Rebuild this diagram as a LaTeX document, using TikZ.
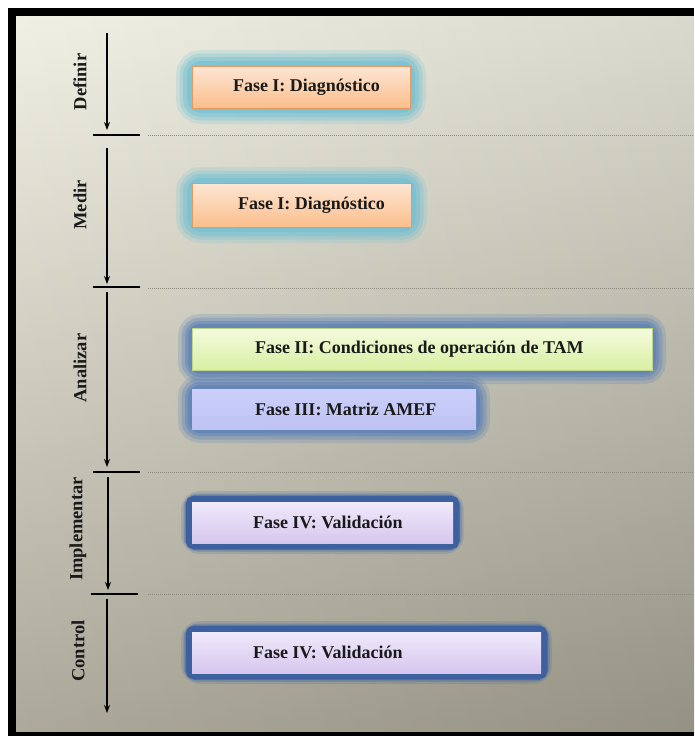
\documentclass[tikz,border=0pt]{standalone}
\usepackage{fontspec}
\setmainfont{Liberation Serif}
\usetikzlibrary{arrows.meta}
\pgfdeclarelayer{bg}
\pgfdeclarelayer{glowlayer}
\pgfsetlayers{bg,glowlayer,main}
\definecolor{txt}{HTML}{1A1A1A}
\definecolor{bgtop}{HTML}{F0EFE2}
\definecolor{bgbot}{HTML}{A4A191}
\definecolor{cyanglow}{HTML}{6CBFD3}
\definecolor{blueglow}{HTML}{5A80B6}
\definecolor{darkborder}{HTML}{3D619E}
\definecolor{orTop}{HTML}{FDE6D4}
\definecolor{orBot}{HTML}{FBBE8C}
\definecolor{orLine}{HTML}{E39A62}
\definecolor{grTop}{HTML}{F5FBDF}
\definecolor{grBot}{HTML}{D8EFA2}
\definecolor{grLine}{HTML}{BFD68A}
\definecolor{lbTop}{HTML}{CCCFFA}
\definecolor{lbBot}{HTML}{BEC3F4}
\definecolor{lvTop}{HTML}{F0EAFB}
\definecolor{lvBot}{HTML}{D6C6EE}
\definecolor{dotline}{HTML}{8C8B80}
\newcommand{\boxtext}[2]{\makebox[#1pt][l]{#2}}
\begin{document}
\begin{tikzpicture}[x=1pt,y=-1pt,
  phasebox/.style={anchor=north west, inner ysep=0pt, outer sep=0pt,
    font=\bfseries\fontsize{18}{20}\selectfont, text=txt},
  orbox/.style={phasebox, top color=orTop, bottom color=orBot, draw=orLine, line width=0.8pt},
  grbox/.style={phasebox, top color=grTop, bottom color=grBot, draw=grLine, line width=0.6pt},
  lbbox/.style={phasebox, top color=lbTop, bottom color=lbBot},
  lvbox/.style={phasebox, top color=lvTop, bottom color=lvBot},
  steplabel/.style={rotate=90, font=\bfseries\fontsize{18.5}{21}\selectfont, text=txt, inner sep=0pt},
  flow/.style={line width=1.4pt, -{Stealth[length=8pt,width=6pt]}},
  tickmark/.style={line width=2.6pt},
  sepline/.style={dotline, line width=0.9pt, dash pattern=on 1pt off 1pt}]

\useasboundingbox (0,0) rectangle (694,736);

% boxes
\node[orbox, inner xsep=41pt, minimum height=42pt] (b1) at (192,66) {\boxtext{136}{Fase I: Diagnóstico}};
\node[orbox, inner xsep=46pt, minimum height=44pt] (b2) at (192,183) {\boxtext{127}{Fase I: Diagnóstico}};
\node[grbox, inner xsep=63pt, minimum height=42pt] (b3) at (192,328) {\boxtext{334}{Fase II: Condiciones de operación de TAM}};
\node[lbbox, inner xsep=63pt, minimum height=40pt] (b4) at (192,389) {\boxtext{158}{Fase III: Matriz AMEF}};
\node[lvbox, inner xsep=61pt, minimum height=41pt] (b5) at (192,502) {\boxtext{139}{Fase IV: Validación}};
\node[lvbox, inner xsep=61pt, minimum height=41pt] (b6) at (192,632) {\boxtext{227}{Fase IV: Validación}};

% labels
\node[steplabel] (lDef) at (80,82) {Definir};
\node[steplabel] (lMed) at (80,205) {Medir};
\node[steplabel] (lAna) at (80,368) {Analizar};
\node[steplabel] (lImp) at (78,529) {Implementar};
\node[steplabel] (lCon) at (78,651) {Control};

% coordinates
\coordinate (aD1) at (107,33);  \coordinate (aD2) at (107,130);
\coordinate (aM1) at (107,148); \coordinate (aM2) at (107,284);
\coordinate (aA1) at (107,292); \coordinate (aA2) at (107,467);
\coordinate (aI1) at (108,477); \coordinate (aI2) at (108,590);
\coordinate (aC1) at (107,599); \coordinate (aC2) at (107,713);
\coordinate (t1a) at (93,135);  \coordinate (t1b) at (140,135);
\coordinate (t2a) at (93,287);  \coordinate (t2b) at (140,287);
\coordinate (t3a) at (93,472);  \coordinate (t3b) at (140,472);
\coordinate (t4a) at (91,594);  \coordinate (t4b) at (138,594);
\coordinate (s1a) at (148,135); \coordinate (s1b) at (694,135);
\coordinate (s2a) at (148,288); \coordinate (s2b) at (694,288);
\coordinate (s3a) at (148,472); \coordinate (s3b) at (694,472);
\coordinate (s4a) at (148,594); \coordinate (s4b) at (694,594);

\draw[flow] (aD1) -- (aD2);
\draw[flow] (aM1) -- (aM2);
\draw[flow] (aA1) -- (aA2);
\draw[flow] (aI1) -- (aI2);
\draw[flow] (aC1) -- (aC2);
\draw[tickmark] (t1a) -- (t1b);
\draw[tickmark] (t2a) -- (t2b);
\draw[tickmark] (t3a) -- (t3b);
\draw[tickmark] (t4a) -- (t4b);
\draw[sepline] (s1a) -- (s1b);
\draw[sepline] (s2a) -- (s2b);
\draw[sepline] (s3a) -- (s3b);
\draw[sepline] (s4a) -- (s4b);

\begin{pgfonlayer}{glowlayer}
  \foreach \b in {b1,b2}{
    \foreach \w/\o in {32/0.2, 25/0.28, 18/0.38, 10/0.5}
      \draw[cyanglow, line width=\w pt, opacity=\o, rounded corners=9pt] (\b.north west) rectangle (\b.south east);
  }
  \foreach \b in {b3,b4}{
    \foreach \w/\o in {28/0.22, 21/0.32, 14/0.45, 8/0.6}
      \draw[blueglow, line width=\w pt, opacity=\o, rounded corners=8pt] (\b.north west) rectangle (\b.south east);
  }
  \foreach \b in {b5,b6}{
    \draw[darkborder, line width=22pt, opacity=0.18, rounded corners=8pt] (\b.north west) rectangle (\b.south east);
    \draw[darkborder, line width=17pt, opacity=0.35, rounded corners=6pt] (\b.north west) rectangle (\b.south east);
    \draw[darkborder, line width=13pt, rounded corners=3pt] (\b.north west) rectangle (\b.south east);
  }
\end{pgfonlayer}

\begin{pgfonlayer}{bg}
  \fill[white] (0,0) rectangle (694,736);
  \fill[black] (8,8) rectangle (694,736);
  \shade[top color=bgtop, bottom color=bgbot] (16,16) rectangle (694,731);
  \shade[left color=white, right color=black, opacity=0.09] (16,16) rectangle (694,731);
\end{pgfonlayer}
\end{tikzpicture}
\end{document}
